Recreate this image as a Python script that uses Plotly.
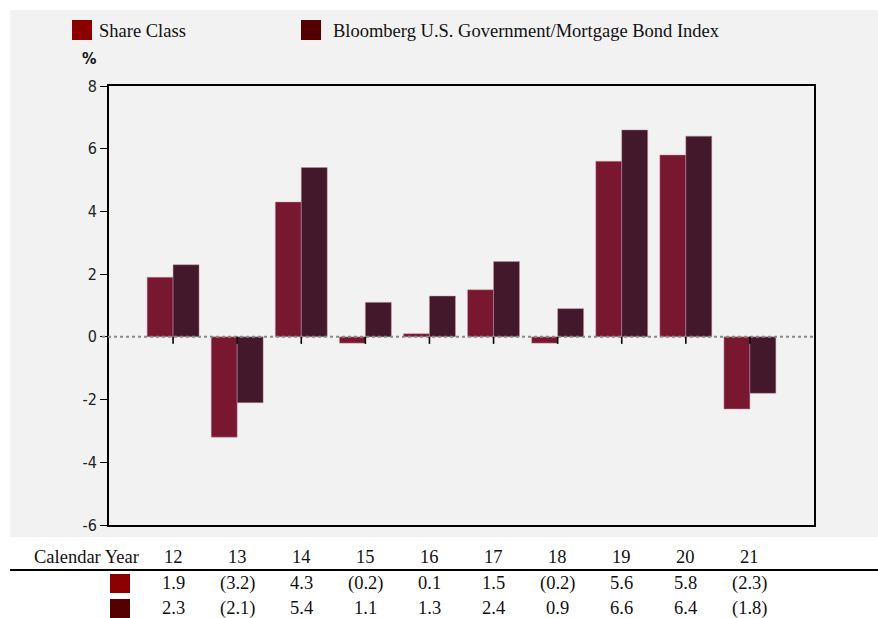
import plotly.graph_objects as go

years = ["12", "13", "14", "15", "16", "17", "18", "19", "20", "21"]
share_class = [1.9, -3.2, 4.3, -0.2, 0.1, 1.5, -0.2, 5.6, 5.8, -2.3]
bond_index = [2.3, -2.1, 5.4, 1.1, 1.3, 2.4, 0.9, 6.6, 6.4, -1.8]
series_names = ["Share Class", "Bloomberg U.S. Government/Mortgage Bond Index"]
y_ticks = [8, 6, 4, 2, 0, -2, -4, -6]

W, H = 878, 618
ML, MR, MT, MB = 109, 64, 86, 93
PW = W - ML - MR
PH = H - MT - MB

def px(x):
    return (x - ML) / PW

def py(y):
    return (H - MB - y) / PH

def fmt(v):
    return f"({abs(v):.1f})" if v < 0 else f"{v:.1f}"

pos = list(range(len(years)))

BAR_COLORS = ["#7a1730", "#43182a"]
KEY_COLORS = ["#8b0000", "#540000"]
SERIF = "Liberation Serif, Times New Roman, serif"
NARROW = "Liberation Sans Narrow, Arial Narrow, DejaVu Sans Condensed, Liberation Sans, sans-serif"
TSIZE = 18.5

fig = go.Figure()
for name, vals, col in zip(series_names, [share_class, bond_index], BAR_COLORS):
    fig.add_trace(go.Bar(x=pos, y=vals, name=name, marker_color=col,
                         marker_line=dict(color="rgba(190,150,162,0.6)", width=0.8),
                         showlegend=False))

shapes = []
shapes.append(dict(type="rect", xref="paper", yref="paper", x0=px(10), x1=px(880),
                   y0=py(537), y1=py(10), fillcolor="#f2f2f2", line_width=0, layer="below"))
shapes.append(dict(type="line", xref="paper", yref="y", x0=px(102), x1=1, y0=0, y1=0,
                   line=dict(color="#8a8a8a", width=2, dash="dot")))
for p in pos:
    shapes.append(dict(type="line", xref="x", yref="y", x0=p, x1=p,
                       ysizemode="pixel", yanchor=0, y0=0, y1=-7,
                       line=dict(color="black", width=1.6)))
shapes.append(dict(type="line", xref="paper", yref="paper", x0=px(10), x1=px(880),
                   y0=py(570), y1=py(570), line=dict(color="black", width=2)))
for xk, col in zip([72, 301], KEY_COLORS):
    shapes.append(dict(type="rect", xref="paper", yref="paper", x0=px(xk), x1=px(xk + 20),
                       y0=py(40), y1=py(20), fillcolor=col, line_width=0))
for yk, col in zip([574, 599], KEY_COLORS):
    shapes.append(dict(type="rect", xref="paper", yref="paper", x0=px(110), x1=px(130),
                       y0=py(yk + 19), y1=py(yk), fillcolor=col, line_width=0))

ann = []
for xt, name in zip([97, 331], series_names):
    ann.append(dict(xref="paper", yref="paper", x=px(xt), y=py(31), text=name,
                    showarrow=False, xanchor="left", yanchor="middle",
                    font=dict(family=SERIF, size=TSIZE, color="#111")))
ann.append(dict(xref="paper", yref="paper", x=px(89), y=py(59), text="<b>%</b>",
                showarrow=False, xanchor="center", yanchor="middle",
                font=dict(family=NARROW, size=16, color="#111")))
ann.append(dict(xref="paper", yref="paper", x=px(141), y=py(557), text="Calendar Year",
                showarrow=False, xanchor="right", yanchor="middle",
                font=dict(family=SERIF, size=TSIZE, color="#111")))
for i, yr in enumerate(years):
    for yv, txt in [(557, yr), (583, fmt(share_class[i])), (608, fmt(bond_index[i]))]:
        ann.append(dict(xref="x", yref="paper", x=pos[i], y=py(yv), text=txt, showarrow=False,
                        xanchor="center", yanchor="middle",
                        font=dict(family=SERIF, size=TSIZE, color="#111")))

fig.update_layout(
    width=W, height=H,
    margin=dict(l=ML, r=MR, t=MT, b=MB),
    paper_bgcolor="white", plot_bgcolor="#f2f2f2",
    barmode="group", bargap=0.19, bargroupgap=0,
    shapes=shapes, annotations=ann,
    xaxis=dict(range=[-1, 10], showticklabels=False, ticks="",
               showgrid=False, zeroline=False, showline=True, mirror=True,
               linecolor="black", linewidth=2, fixedrange=True),
    yaxis=dict(range=[-6, 8], tickvals=y_ticks, ticktext=[str(v) for v in y_ticks],
               ticks="outside", ticklen=7, tickcolor="black", tickwidth=1,
               tickfont=dict(family=NARROW, size=16, color="#222"),
               showgrid=False, zeroline=False, showline=True, mirror=True,
               linecolor="black", linewidth=2, fixedrange=True),
)

fig.write_html("out.html", config={"displayModeBar": False},
               post_script="document.body.style.margin='0';document.body.style.overflow='hidden';")
